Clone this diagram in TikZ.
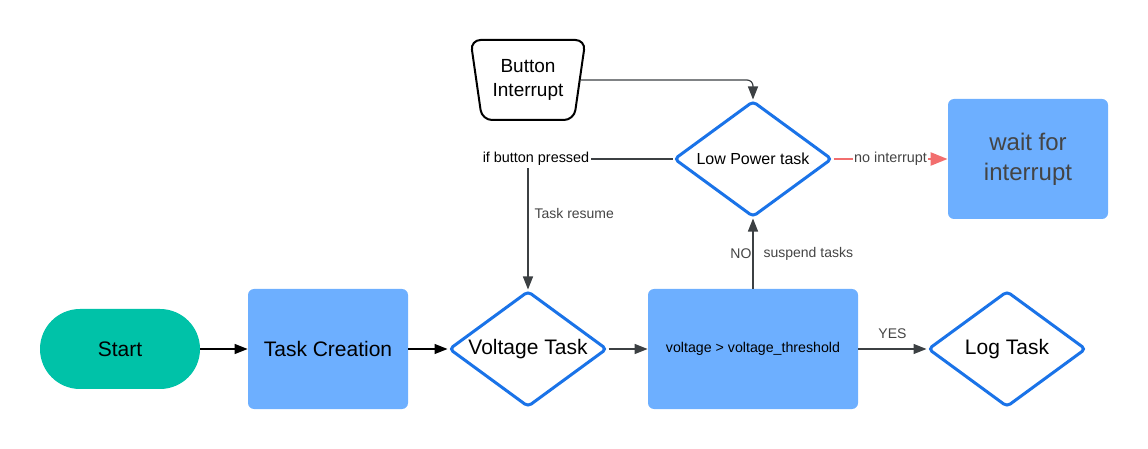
\documentclass[tikz,border=0pt]{standalone}
\usepackage{fontspec}
\setmainfont{Liberation Sans}
\usetikzlibrary{shapes.geometric,arrows.meta,positioning}
\definecolor{startgreen}{HTML}{00C2A8}
\definecolor{procblue}{HTML}{6DAFFF}
\definecolor{decblue}{HTML}{1A73E8}
\definecolor{flowgray}{HTML}{3C4043}
\definecolor{nored}{HTML}{F26E6E}
\definecolor{labelgray}{HTML}{444444}
\newcommand{\dtext}[1]{\makebox[0pt]{#1}}
\begin{document}
\begin{tikzpicture}[x=0.5pt,y=-0.5pt,
    every node/.style={inner sep=0pt,font=\fontsize{10.5}{12.6}\selectfont},
    box/.style={fill=procblue,rounded corners=3pt,minimum width=80pt,minimum height=60pt},
    decision/.style={diamond,draw=decblue,line width=1.5pt,fill=white,rounded corners=2pt,
      minimum width=79pt,minimum height=58pt},
    flow/.style={draw=flowgray,line width=0.6pt,-{Triangle[length=6.5pt,width=5pt]}},
    lbl/.style={font=\fontsize{7}{8.4}\selectfont,text=labelgray}]
  \useasboundingbox (0,0) rectangle (1148,449);
  % main row
  \node[fill=startgreen,rounded corners=20pt,minimum width=80pt,minimum height=40pt] (start) at (120,349) {Start};
  \node[box] (create) at (328,349) {Task Creation};
  \node[decision] (volt) at (528,349) {\dtext{Voltage Task}};
  \node[box,minimum width=105pt,font=\fontsize{7.1}{8.5}\selectfont] (check) at (753,349) {voltage > voltage\_threshold};
  \node[decision] (log) at (1007,349) {\dtext{Log Task}};
  % upper row
  \node[decision,font=\fontsize{8}{9.6}\selectfont] (lowpow) at (753,159) {\dtext{Low Power task}};
  \node[box,text=labelgray,align=center,font=\fontsize{12}{15}\selectfont] (wait) at (1028,159) {wait for\\interrupt};
  \node[trapezium,trapezium stretches=true,shape border rotate=180,trapezium angle=78,
    draw,line width=1pt,rounded corners=5pt,minimum width=57.5pt,minimum height=40pt,
    align=center,font=\fontsize{9.5}{12.3}\selectfont] (button) at (528,80) {Button\\Interrupt};

  \draw[flow,draw=black] (start) -- (create);
  \draw[flow,draw=black] (create) -- (volt);
  \draw[flow] (volt) -- (check);
  \draw[flow] (check) -- node[lbl,above=5pt]{YES} (log);
  \draw[flow] (check) -- node[lbl,left=0.5pt]{NO} node[lbl,right=5pt]{suspend tasks} (lowpow);
  \draw[flow] (lowpow) -| node[pos=0.5,fill=white,inner sep=1pt,xshift=4pt,font=\fontsize{7.2}{8.6}\selectfont]{if button pressed}
    node[lbl,pos=0.71,right=3pt]{Task resume} (volt);
  \draw[flow,rounded corners=3pt] (button) -| (lowpow);
  \draw[draw=nored,line width=1.2pt,-{Triangle[length=8.5pt,width=6.5pt]}] (lowpow) --
    node[fill=white,inner sep=0.5pt,font=\fontsize{7.2}{8.6}\selectfont,text=labelgray]{no interrupt} (wait);
\end{tikzpicture}
\end{document}
